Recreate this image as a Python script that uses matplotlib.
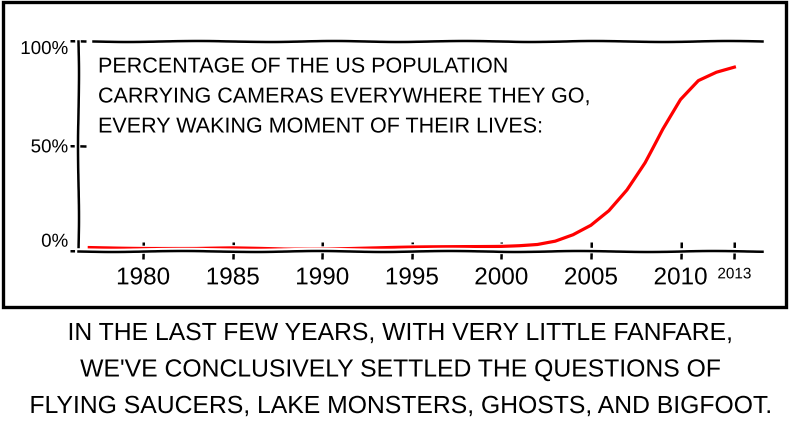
import matplotlib
matplotlib.use('Agg')
import matplotlib.pyplot as plt
from matplotlib.patches import Rectangle

years = [1977, 1978, 1980, 1983, 1985, 1988, 1990, 1993, 1995, 1998, 2000,
         2001, 2002, 2003, 2004, 2005, 2006, 2007, 2008, 2009, 2010, 2011, 2012, 2013]
pct = [1.5, 1.4, 1.2, 1.0, 1.2, 0.8, 0.9, 1.3, 1.6, 2.0, 2.2,
       2.5, 3.0, 4.5, 7.5, 12, 19, 29, 42, 58, 72, 81, 85, 87.5]

x_ticks = [1980, 1985, 1990, 1995, 2000, 2005, 2010, 2013]
x_labels = ['1980', '1985', '1990', '1995', '2000', '2005', '2010', '2013']
y_ticks = [0, 50, 100]
y_labels = ['0%', '50%', '100%']

title_lines = ['PERCENTAGE OF THE US POPULATION',
               'CARRYING CAMERAS EVERYWHERE THEY GO,',
               'EVERY WAKING MOMENT OF THEIR LIVES:']
caption_lines = ['IN THE LAST FEW YEARS, WITH VERY LITTLE FANFARE,',
                 "WE'VE CONCLUSIVELY SETTLED THE QUESTIONS OF",
                 'FLYING SAUCERS, LAKE MONSTERS, GHOSTS, AND BIGFOOT.']

plt.xkcd(scale=0.5, length=150, randomness=2)
plt.rcParams['font.family'] = ['Liberation Sans', 'DejaVu Sans']

W, H = 789, 427
fig = plt.figure(figsize=(W / 100, H / 100), dpi=100)
fig.patch.set_facecolor('white')

# comic panel border (drawn straight)
border = Rectangle((2.5 / W, 1 - 308 / H), 783 / W, 305.5 / H,
                   transform=fig.transFigure, fill=False,
                   ec='black', lw=2.4, zorder=0)
border.set_sketch_params(None)
fig.patches.append(border)

ax = fig.add_axes([78 / W, 1 - 251.7 / H, (762 - 78) / W, (251.7 - 42) / H])
ax.set_facecolor('none')
line, = ax.plot(years, pct, color='#ff0000', lw=2.3)
line.set_sketch_params(0.3, 200, 2)

ax.set_xlim(1976.37, 2014.54)
ax.set_ylim(0, 100)
ax.spines['right'].set_visible(False)
ax.spines['top'].set_bounds(1977.2, 2014.54)
for s in ['left', 'bottom', 'top']:
    ax.spines[s].set_linewidth(1.8)

ax.set_xticks(x_ticks)
ax.set_xticklabels(x_labels, fontsize=17.5)
ax.set_yticks(y_ticks)
ax.set_yticklabels(y_labels, fontsize=13.5)
ax.tick_params(axis='both', direction='inout', length=12, width=1.8)
ax.tick_params(axis='x', pad=6)
ax.tick_params(axis='y', pad=1)
ax.get_xticklabels()[-1].set_fontsize(11)
ylabs = ax.get_yticklabels()
ylabs[0].set_va('bottom')
ylabs[2].set_va('top')

# text inside the plot
for i, txt in enumerate(title_lines):
    fig.text(98 / W, 1 - (68 + 30 * i) / H, txt, fontsize=15.5,
             ha='left', va='center')

# caption under the panel
for i, txt in enumerate(caption_lines):
    fig.text(400 / W, 1 - (334 + 36.5 * i) / H, txt, fontsize=17.8,
             ha='center', va='center')

fig.savefig('out.png', dpi=100, facecolor='white')
